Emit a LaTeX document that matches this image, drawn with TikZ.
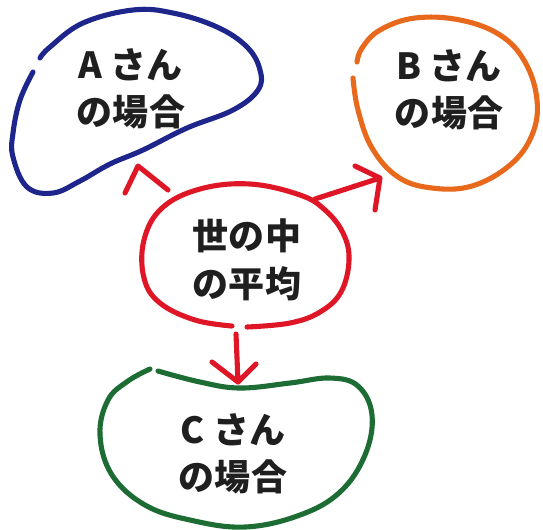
\documentclass[tikz,border=0pt]{standalone}
\usepackage{fontspec}
\newfontfamily\jp{Noto Sans CJK JP}
\pgfdeclarelayer{bg}
\pgfsetlayers{bg,main}
\def\gprgb#1#2#3{rgb,255:red,#1;green,#2;blue,#3}
\tikzset{
  pen/.style={line width=2.9pt,line cap=round,line join=round},
  lbl/.style={align=center,font=\jp\bfseries\fontsize{20.5}{27}\selectfont,text=black!88,inner sep=0pt},
}
\begin{document}
\begin{tikzpicture}[x=0.02cm,y=-0.02cm]
\useasboundingbox (0,0) rectangle (543,529);

% Draw the nodes...
\node (m) at (247,260) [lbl] {世の中\\の平均};
\node (a) at (131,89) [lbl] {A さん\\の場合};
\node (b) at (449,90) [lbl] {B さん\\の場合};
\node (c) at (233,454) [lbl] {C さん\\の場合};

% Draw the outlines...
\begin{pgfonlayer}{bg}
\draw[pen,color=\gprgb{30}{38}{140}] plot[smooth,tension=0.65] coordinates {(40,58) (50,47) (83,23) (133,10) (173,13) (217,27) (247,47) (260,70) (258,90) (233,110) (187,128) (143,150) (110,164) (80,181) (53,193) (27,187) (13,157) (13,133) (20,100) (33,72)};
\draw[pen,color=\gprgb{232}{104}{28}] plot[smooth,tension=0.65] coordinates {(353,78) (358,110) (372,148) (398,177) (432,188) (472,186) (510,165) (532,135) (537,100) (525,62) (500,35) (460,20) (415,18) (380,30) (362,48) (357,62)};
\draw[pen,color=\gprgb{222}{22}{38}] plot[smooth,tension=0.65] coordinates {(247,327) (290,323) (320,312) (341,292) (349,260) (343,233) (325,210) (300,195) (250,184) (200,189) (162,208) (144,240) (144,278) (160,303) (195,320) (232,326)};
\draw[pen,color=\gprgb{28}{108}{52}] plot[smooth,tension=0.65] coordinates {(158,371) (200,382) (240,388) (290,383) (330,378) (358,386) (372,415) (365,455) (340,492) (300,515) (245,527) (190,520) (145,505) (112,475) (100,435) (108,400) (128,381) (150,369)};
\end{pgfonlayer}

% Draw the arrows...
\coordinate (ma) at (168,190);
\coordinate (ta) at (138,166);
\coordinate (mb) at (315,199);
\coordinate (tb) at (380,178);
\coordinate (mc) at (236,334);
\coordinate (tc) at (238,382);
\draw[pen,color=\gprgb{222}{22}{38}] (125,193) -- (ta) -- (ma);
\draw[pen,color=\gprgb{222}{22}{38}] (mb) -- (tb) (355,166) -- (tb) -- (375,210);
\draw[pen,color=\gprgb{222}{22}{38}] (mc) -- (tc) (212,362) -- (tc) -- (256,364);

\end{tikzpicture}
\end{document}
